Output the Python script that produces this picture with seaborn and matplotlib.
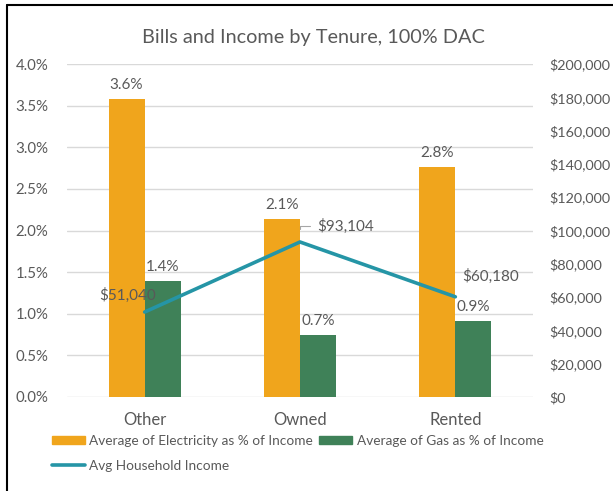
import matplotlib
matplotlib.use('Agg')
import matplotlib.pyplot as plt
import matplotlib.patches as mpatches
from matplotlib.lines import Line2D
from matplotlib.ticker import PercentFormatter, StrMethodFormatter, MultipleLocator
import seaborn as sns
import pandas as pd

tenure = ['Other', 'Owned', 'Rented']
elec_pct = [0.0358, 0.0214, 0.0276]
gas_pct = [0.0139, 0.0074, 0.0091]
income = [51040, 93104, 60180]
series_names = ['Average of Electricity as % of Income', 'Average of Gas as % of Income']
line_name = 'Avg Household Income'

orange = '#F0A51C'
green = '#3F8158'
teal = '#2595A6'
grey = '#595959'
grid_col = '#D9D9D9'

sns.set_style('white')
plt.rcParams['font.family'] = ['Lato', 'DejaVu Sans']

df = pd.DataFrame({
    'Tenure': tenure * 2,
    'Series': [series_names[0]] * len(tenure) + [series_names[1]] * len(tenure),
    'Pct': elec_pct + gas_pct,
})

fig = plt.figure(figsize=(6.13, 4.91), dpi=100)
ax = fig.add_axes([67 / 613, 1 - 397 / 491, 466 / 613, 333 / 491])

sns.barplot(data=df, x='Tenure', y='Pct', hue='Series', palette=[orange, green],
            width=0.465, saturation=1, errorbar=None, legend=False, linewidth=0, ax=ax)
for cont in ax.containers:
    ax.bar_label(cont, fmt=lambda v: f'{v:.1%}', padding=5, fontsize=11, color=grey)

ax.set_ylim(0, 0.04)
ax.yaxis.set_major_locator(MultipleLocator(0.005))
ax.yaxis.set_major_formatter(PercentFormatter(1, decimals=1))
ax.grid(axis='y', color=grid_col, lw=1)
ax.set_axisbelow(True)
ax.set_xlabel('')
ax.set_ylabel('')
ax.tick_params(axis='y', length=0, pad=13.5, labelsize=10.8, labelcolor=grey)
ax.tick_params(axis='x', length=0, pad=11, labelsize=12, labelcolor=grey)
for s in ax.spines.values():
    s.set_visible(False)

# secondary axis: income line
ax2 = ax.twinx()
sns.lineplot(x=range(len(tenure)), y=income, color=teal, lw=2.6, ax=ax2)
ax.set_xlim(-0.5, len(tenure) - 0.5)
ax2.set_ylim(0, 200000)
ax2.yaxis.set_major_locator(MultipleLocator(20000))
ax2.yaxis.set_major_formatter(StrMethodFormatter('${x:,.0f}'))
ax2.tick_params(axis='y', length=0, pad=11.5, labelsize=10.4, labelcolor=grey)
ax2.set_ylabel('')
ax2.grid(False)
for s in ax2.spines.values():
    s.set_visible(False)

offsets = [(-17, 17, 'center'), (17, 16, 'left'), (7, 20, 'left')]
for i, v in enumerate(income):
    dx, dy, ha = offsets[i]
    kw = {}
    if i == 1:
        kw['arrowprops'] = dict(arrowstyle='-', color='#A6A6A6', lw=0.8,
                                connectionstyle='angle,angleA=180,angleB=90,rad=0',
                                shrinkA=3, shrinkB=9, relpos=(0, 0.5))
    ax2.annotate(f'${v:,.0f}', xy=(i, v), xytext=(dx, dy), textcoords='offset pixels',
                 ha=ha, va='center', fontsize=11, color=grey, **kw)

fig.text(0.512, 1 - 37 / 491, 'Bills and Income by Tenure, 100% DAC',
         ha='center', va='center', fontsize=14.3, color=grey)

handles = [mpatches.Patch(color=orange, label=series_names[0]),
           Line2D([], [], color=teal, lw=2.6, label=line_name),
           mpatches.Patch(color=green, label=series_names[1])]
fig.legend(handles=handles, ncol=2, loc='upper left', bbox_to_anchor=(52 / 613, 1 - 435 / 491),
           frameon=False, fontsize=9.8, labelcolor=grey, borderpad=0, borderaxespad=0,
           handlelength=2.4, handleheight=0.55, handletextpad=0.35, columnspacing=0.45,
           labelspacing=0.95)

# chart frame (left and top edges visible in the crop)
fig.add_artist(Line2D([7 / 613, 7 / 613], [0, 1 - 5 / 491], transform=fig.transFigure, color='black', lw=1.5))
fig.add_artist(Line2D([7 / 613, 1], [1 - 5 / 491, 1 - 5 / 491], transform=fig.transFigure, color='black', lw=1.5))

fig.savefig('out.png', dpi=100)
